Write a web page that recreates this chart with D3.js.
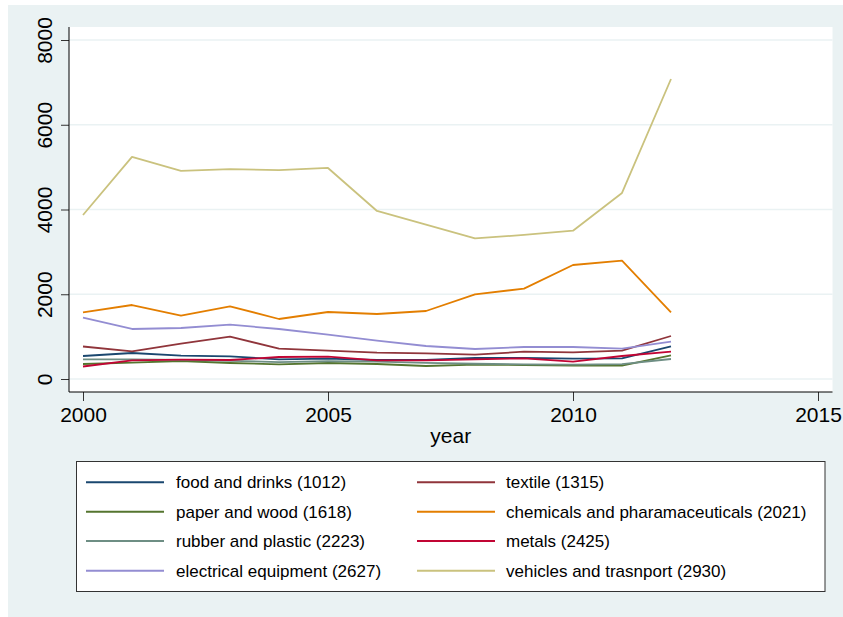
<!DOCTYPE html>
<html><head><meta charset="utf-8">
<script src="https://cdn.jsdelivr.net/npm/d3@7"></script>
<style>body{margin:0;background:#fff}svg{display:block;font-family:"Liberation Sans",Arial,Helvetica,sans-serif}</style>
</head><body>
<svg id="c" width="843" height="617"></svg>
<script>
const years = [2000,2001,2002,2003,2004,2005,2006,2007,2008,2009,2010,2011,2012];
const seriesNames = ["food and drinks (1012)","textile (1315)","paper and wood (1618)","chemicals and pharamaceuticals (2021)","rubber and plastic (2223)","metals (2425)","electrical equipment (2627)","vehicles and trasnport (2930)"];
const colors = ["#1a476f","#90353b","#55752f","#e37e00","#6e8e84","#c10534","#938dd2","#cac27e"];
const food       = [543,614,551,535,464,480,448,448,496,496,480,488,770];
const textile    = [767,652,834,999,716,669,622,606,574,645,629,669,1015];
const paper      = [354,385,425,378,346,378,354,307,338,330,315,315,560];
const chemicals  = [1573,1746,1495,1715,1416,1581,1534,1605,1998,2132,2690,2792,1573];
const rubber     = [464,464,450,430,400,420,410,380,360,345,340,350,472];
const metals     = [295,440,456,448,519,527,440,440,464,488,409,543,645];
const electrical = [1447,1180,1204,1282,1180,1046,905,779,708,755,755,716,881];
const vehicles   = [3870,5240,4910,4955,4930,4980,3965,3645,3320,3400,3500,4390,7080];
const seriesValues = [food,textile,paper,chemicals,rubber,metals,electrical,vehicles];
const yTicks = [0,2000,4000,6000,8000];
const xTicks = [2000,2005,2010,2015];

const svg = d3.select("#c");
const L=69, R=832.5, T=27, B=392;
svg.append("rect").attr("x",8).attr("y",5).attr("width",835).attr("height",612).attr("fill","#eaf2f3");
svg.append("rect").attr("x",L).attr("y",T).attr("width",R-L).attr("height",B-T).attr("fill","#fff");

const x = d3.scaleLinear().domain([2000,2015]).range([83,818]);
const y = d3.scaleLinear().domain([0,8000]).range([379,40]);

// gridlines
svg.append("g").selectAll("line").data(yTicks).join("line")
  .attr("x1",L).attr("x2",R).attr("y1",d=>y(d)).attr("y2",d=>y(d))
  .attr("stroke","#eaf2f3").attr("stroke-width",1.5);

// lines
const line = d3.line().x((d,i)=>x(years[i])).y(d=>y(d));
seriesValues.forEach((vals,k)=>{
  svg.append("path").datum(vals).attr("d",line).attr("fill","none")
    .attr("stroke",colors[k]).attr("stroke-width",1.8).attr("stroke-linejoin","round");
});

// axes
const yAxis = svg.append("g").attr("transform",`translate(${L},0)`)
  .call(d3.axisLeft(y).tickValues(yTicks).tickSize(8).tickSizeOuter(0).tickFormat(d3.format("d")));
yAxis.select(".domain").remove();
yAxis.selectAll(".tick line").attr("stroke","#333");
yAxis.selectAll(".tick text").attr("font-size",21).attr("fill","#000")
  .attr("transform","translate(-17.5,0) rotate(-90)").attr("x",0).attr("y",0).attr("dy",0)
  .attr("text-anchor","middle");
svg.append("line").attr("x1",L).attr("x2",L).attr("y1",T).attr("y2",B).attr("stroke","#000").attr("stroke-width",1);

const xAxis = svg.append("g").attr("transform",`translate(0,${B})`)
  .call(d3.axisBottom(x).tickValues(xTicks).tickSize(9).tickSizeOuter(0).tickFormat(d3.format("d")));
xAxis.select(".domain").remove();
xAxis.selectAll(".tick line").attr("stroke","#333");
xAxis.selectAll(".tick text").attr("font-size",21).attr("fill","#000").attr("y",29.5).attr("dy",0);
svg.append("line").attr("x1",L).attr("x2",R).attr("y1",B).attr("y2",B).attr("stroke","#000").attr("stroke-width",1);

svg.append("text").attr("x",(L+R)/2).attr("y",443).attr("text-anchor","middle")
  .attr("font-size",21).attr("fill","#000").text("year");

// legend
svg.append("rect").attr("x",76.5).attr("y",461.5).attr("width",748.5).attr("height",130)
  .attr("fill","#fff").attr("stroke","#333").attr("stroke-width",1);
const rowY=[482.3,511.7,541,570.8];
seriesNames.forEach((n,k)=>{
  const col=k%2,row=Math.floor(k/2);
  const lx = col===0?86:417, tx = col===0?176:506;
  svg.append("line").attr("x1",lx).attr("x2",lx+78).attr("y1",rowY[row]).attr("y2",rowY[row])
    .attr("stroke",colors[k]).attr("stroke-width",2);
  svg.append("text").attr("x",tx).attr("y",rowY[row]+6).attr("font-size",17).attr("fill","#000").text(n);
});
</script>
</body></html>
